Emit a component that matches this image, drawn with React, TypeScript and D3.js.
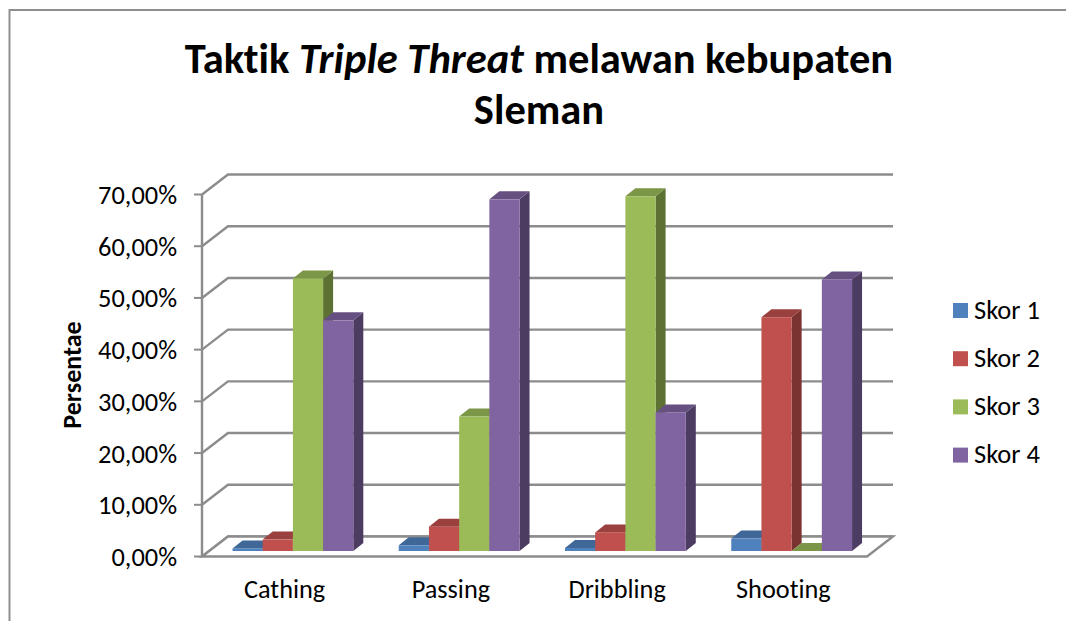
import React from "react";
import * as d3 from "d3";

const categories = ["Cathing", "Passing", "Dribbling", "Shooting"];
const seriesNames = ["Skor 1", "Skor 2", "Skor 3", "Skor 4"];
const skor1 = [0.5, 1.1, 0.6, 2.4];
const skor2 = [2.2, 4.7, 3.6, 45.2];
const skor3 = [52.7, 26, 68.6, 0];
const skor4 = [44.6, 68, 26.8, 52.5];
const seriesValues = [skor1, skor2, skor3, skor4];
const yTicks = [0, 10, 20, 30, 40, 50, 60, 70];
const frontColors = ["#4f81bd", "#c0504d", "#9bbb59", "#8064a2"];
const topColors = ["#3f6797", "#9a403e", "#7c9647", "#665082"];
const sideColors = ["#2f4d71", "#7a3331", "#5e7135", "#4d3c62"];

const W = 1066, H = 621;
const GRID = "#8c8c8c";
const FONT = "Carlito, Calibri, Lato, 'Open Sans', sans-serif";

export default function App() {
  const x0 = 202, x1 = 867, yBase = 556.5, yTop = 194.5;
  const wallDx = 26, wallDy = -20;
  const barDx = 10, barDy = -8, planeDy = -5.5;
  const y = d3.scaleLinear().domain([0, 70]).range([yBase, yTop]);
  const xBand = d3.scaleBand<string>().domain(categories).range([x0, x1]);
  const step = xBand.step();
  const gapLeft = 30.5;
  const barW = 30.2;

  const fmt = (v: number) => d3.format(".2f")(v).replace(".", ",") + "%";

  return (
    <svg width={W} height={H} style={{ position: "absolute", left: 0, top: 0, background: "#fff", fontVariantLigatures: "none" }} fontFamily={FONT}>
      <path d={`M9.5,${H} V10 H${W}`} fill="none" stroke="#8f8f8f" strokeWidth={2} />

      <text textAnchor="middle" fontSize={42.5} fontWeight={700} fill="#000" x={539} y={73}>
        Taktik <tspan fontStyle="italic">Triple Threat</tspan> melawan kebupaten
      </text>
      <text textAnchor="middle" fontSize={42.5} fontWeight={700} fill="#000" x={539} y={124}>Sleman</text>

      {/* walls and gridlines */}
      {yTicks.map((t) => (
        <g key={t}>
          <path
            d={`M${x0},${y(t)} L${x0 + wallDx},${y(t) + wallDy} H${x1 + wallDx}`}
            fill="none" stroke={GRID} strokeWidth={2.4}
          />
          <line x1={x0 - 8} x2={x0} y1={y(t)} y2={y(t)} stroke={GRID} strokeWidth={2} />
          <text x={177} y={y(t) + 9.5} textAnchor="end" fontSize={26.4} fill="#000">{fmt(t)}</text>
        </g>
      ))}
      <line x1={x0} x2={x0} y1={yTop} y2={yBase} stroke={GRID} strokeWidth={2.4} />
      <path
        d={`M${x0},${yBase} H${x1} L${x1 + wallDx},${yBase + wallDy} H${x0 + wallDx} Z`}
        fill="#fff" stroke={GRID} strokeWidth={2.4}
      />

      {/* bars */}
      {categories.map((c, ci) => (
        <g key={c}>
          {seriesValues.map((vals, si) => {
            const bx = (xBand(c) as number) + gapLeft + si * barW;
            const bottom = yBase + planeDy;
            const top = y(vals[ci]) + planeDy;
            const h = bottom - top;
            return (
              <g key={si}>
                <path
                  d={`M${bx + barW},${top} l${barDx},${barDy} V${bottom + barDy} L${bx + barW},${bottom} Z`}
                  fill={sideColors[si]}
                />
                <path
                  d={`M${bx},${top} l${barDx},${barDy} h${barW} l${-barDx},${-barDy} Z`}
                  fill={topColors[si]}
                />
                <rect x={bx} y={top} width={barW} height={h} fill={frontColors[si]} />
              </g>
            );
          })}
        </g>
      ))}

      {categories.map((c) => (
        <text key={c} x={(xBand(c) as number) + step / 2 - 0.5} y={598} textAnchor="middle" fontSize={26.3} fill="#000">{c}</text>
      ))}

      <text transform="translate(81,375) rotate(-90)" textAnchor="middle" fontSize={26} fontWeight={700} fill="#000">Persentae</text>

      {seriesNames.map((s, i) => (
        <g key={s}>
          <rect x={953} y={303 + i * 48.2} width={15} height={15} fill={frontColors[i]} />
          <text x={974} y={318.5 + i * 48.2} fontSize={26.5} fill="#000">{s}</text>
        </g>
      ))}
    </svg>
  );
}
